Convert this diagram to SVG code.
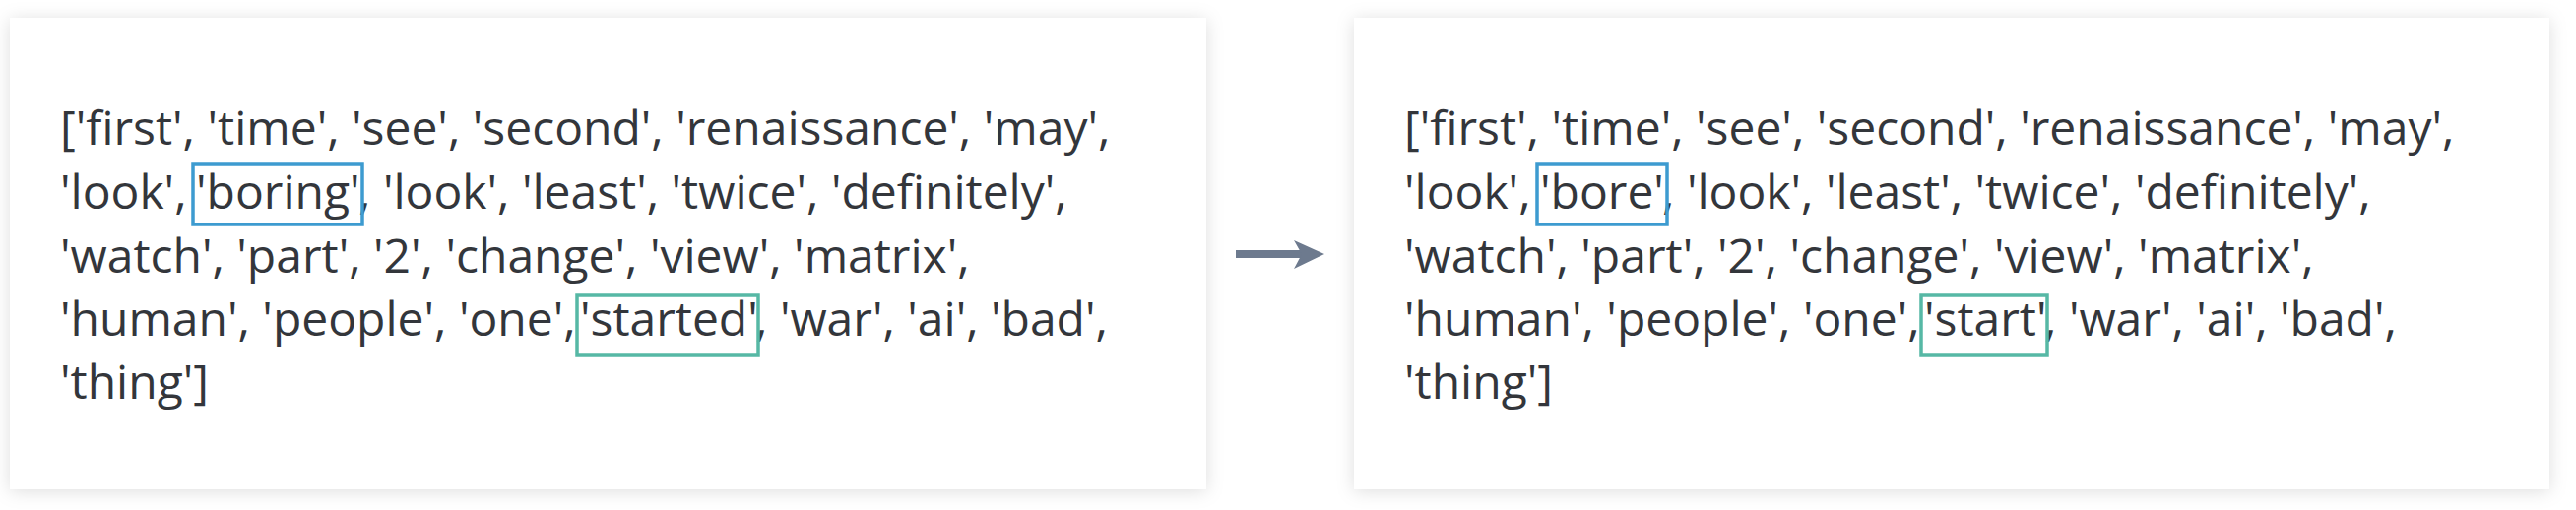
<svg xmlns="http://www.w3.org/2000/svg" width="2616" height="518" viewBox="0 0 2616 518">
  <style>
    .card { fill: #ffffff; filter: url(#shadow); }
    .t { font-family: "Open Sans", "Noto Sans", "DejaVu Sans", sans-serif; font-size: 48px; fill: #33363b; }
    .hl-blue { fill: none; stroke: #3d9bd0; stroke-width: 3.5; }
    .hl-teal { fill: none; stroke: #56b8a5; stroke-width: 3.5; }
    .arrow-line { stroke: #6d7a8e; stroke-width: 8; }
    .arrow-head { fill: #6d7a8e; }
  </style>
  <defs>
    <filter id="shadow" x="-5%" y="-10%" width="110%" height="120%">
      <feDropShadow dx="0" dy="2" stdDeviation="9" flood-color="#000000" flood-opacity="0.13"/>
    </filter>
  </defs>
  <rect x="0" y="0" width="2616" height="518" fill="#ffffff"/>

  <g id="left-card">
    <rect class="card" x="10" y="18" width="1215" height="479"/>
    <text class="t" x="61" y="147">['first', 'time', 'see', 'second', 'renaissance', 'may',</text>
    <text class="t" y="212"><tspan x="61">'look', </tspan><tspan x="199">'boring'</tspan><tspan x="364">, 'look', 'least', 'twice', 'definitely',</tspan></text>
    <text class="t" x="61" y="277">'watch', 'part', '2', 'change', 'view', 'matrix',</text>
    <text class="t" y="341"><tspan x="61">'human', 'people', 'one', </tspan><tspan x="589">'started'</tspan><tspan x="767">, 'war', 'ai', 'bad',</tspan></text>
    <text class="t" x="61" y="405">'thing']</text>
    <rect class="hl-blue" x="196" y="167" width="172" height="61"/>
    <rect class="hl-teal" x="586" y="300" width="184" height="61"/>
  </g>

  <g id="right-card">
    <rect class="card" x="1375" y="18" width="1214" height="479"/>
    <text class="t" x="1426" y="147">['first', 'time', 'see', 'second', 'renaissance', 'may',</text>
    <text class="t" y="212"><tspan x="1426">'look', </tspan><tspan x="1564">'bore'</tspan><tspan x="1688">, 'look', 'least', 'twice', 'definitely',</tspan></text>
    <text class="t" x="1426" y="277">'watch', 'part', '2', 'change', 'view', 'matrix',</text>
    <text class="t" y="341"><tspan x="1426">'human', 'people', 'one', </tspan><tspan x="1954">'start'</tspan><tspan x="2076">, 'war', 'ai', 'bad',</tspan></text>
    <text class="t" x="1426" y="405">'thing']</text>
    <rect class="hl-blue" x="1561" y="167" width="132" height="61"/>
    <rect class="hl-teal" x="1951" y="300" width="128" height="61"/>
  </g>

  <g id="connectors">
    <line class="arrow-line" x1="1255" y1="258" x2="1322" y2="258"/>
    <path class="arrow-head" d="M1345,258 L1314,244 L1322,258 L1314,273 Z"/>
  </g>
</svg>
